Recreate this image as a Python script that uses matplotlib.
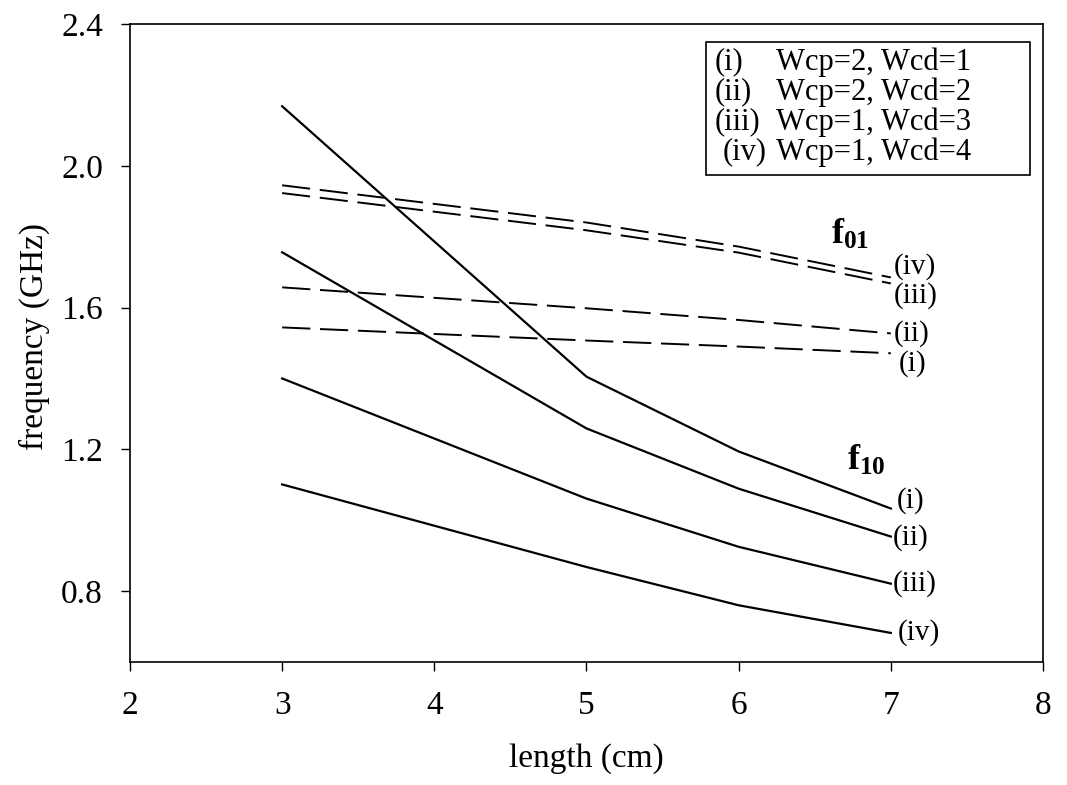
import numpy as np
import matplotlib
matplotlib.use("Agg")
import matplotlib.pyplot as plt
from matplotlib.patches import Rectangle

plt.rcParams['font.family'] = ['Liberation Serif', 'DejaVu Serif']
plt.rcParams['mathtext.fontset'] = 'custom'
plt.rcParams['mathtext.rm'] = 'Liberation Serif'
plt.rcParams['mathtext.bf'] = 'Liberation Serif:bold'

# lengte (cm)
length = [3, 5, 6, 7]

# f10 modes (volle lijnen)
f10_i = [2.168, 1.405, 1.194, 1.033]
f10_ii = [1.756, 1.259, 1.089, 0.954]
f10_iii = [1.400, 1.061, 0.925, 0.821]
f10_iv = [1.101, 0.868, 0.760, 0.682]

# f01 modes (gestreepte lijnen)
f01_i = [1.544, 1.507, 1.490, 1.471]
f01_ii = [1.657, 1.598, 1.565, 1.527]
f01_iii = [1.923, 1.818, 1.755, 1.668]
f01_iv = [1.945, 1.840, 1.772, 1.685]

legend_ids = ["(i)", "(ii)", "(iii)", "(iv)"]
legend_text = ["Wcp=2, Wcd=1", "Wcp=2, Wcd=2", "Wcp=1, Wcd=3", "Wcp=1, Wcd=4"]

fig = plt.figure(figsize=(10.67, 7.85), dpi=100)
ax = fig.add_axes([0.1218, 0.1567, 0.8557, 0.8127])

for y in [f10_i, f10_ii, f10_iii, f10_iv]:
    ax.plot(length, y, color='black', lw=1.6)
for y in [f01_i, f01_ii, f01_iii, f01_iv]:
    ax.plot(length, y, color='black', lw=1.4, dashes=(14.5, 5))

# labels aan het einde van de lijnen
fs = 21
ax.text(7.02, 1.715, "(iv)", fontsize=fs, va='center', ha='left')
ax.text(7.02, 1.633, "(iii)", fontsize=fs, va='center', ha='left')
ax.text(7.02, 1.527, "(ii)", fontsize=fs, va='center', ha='left')
ax.text(7.05, 1.442, "(i)", fontsize=fs, va='center', ha='left')

ax.text(7.04, 1.055, "(i)", fontsize=fs, va='center', ha='left')
ax.text(7.01, 0.951, "(ii)", fontsize=fs, va='center', ha='left')
ax.text(7.01, 0.821, "(iii)", fontsize=fs, va='center', ha='left')
ax.text(7.045, 0.682, "(iv)", fontsize=fs, va='center', ha='left')

ax.text(6.61, 1.78, r"$\mathbf{f_{01}}$", fontsize=26, ha='left')
ax.text(6.715, 1.142, r"$\mathbf{f_{10}}$", fontsize=26, ha='left')

# legenda: kader met tekst
ax.add_patch(Rectangle((0.631, 0.7633), 0.3548, 0.2085, transform=ax.transAxes,
                       facecolor='white', edgecolor='black', lw=1.2, zorder=5))
rows = [0.9404, 0.8934, 0.8464, 0.7994]
ids_x = [0.640, 0.640, 0.640, 0.649]
for i in range(4):
    ax.text(ids_x[i], rows[i], legend_ids[i], transform=ax.transAxes,
            fontsize=22, va='center', ha='left', zorder=6)
    ax.text(0.708, rows[i], legend_text[i], transform=ax.transAxes,
            fontsize=22, va='center', ha='left', zorder=6)

ax.set_xlim(2, 8)
ax.set_ylim(0.6, 2.4)
ax.set_xticks([2, 3, 4, 5, 6, 7, 8])
ax.set_yticks([0.8, 1.2, 1.6, 2.0, 2.4])
ax.set_yticklabels(["0.8", "1.2", "1.6", "2.0", "2.4"])
ax.tick_params(direction='out', length=6.5, width=1, labelsize=24)
ax.tick_params(axis='x', pad=14)
ax.tick_params(axis='y', pad=13)
for s in ax.spines.values():
    s.set_linewidth(1.2)

ax.set_xlabel("length (cm)", fontsize=24)
ax.set_ylabel("frequency (GHz)", fontsize=24)
ax.xaxis.set_label_coords(0.5, -0.128)
ax.yaxis.set_label_coords(-0.088, 0.51)

fig.savefig("out.png", dpi=100)
